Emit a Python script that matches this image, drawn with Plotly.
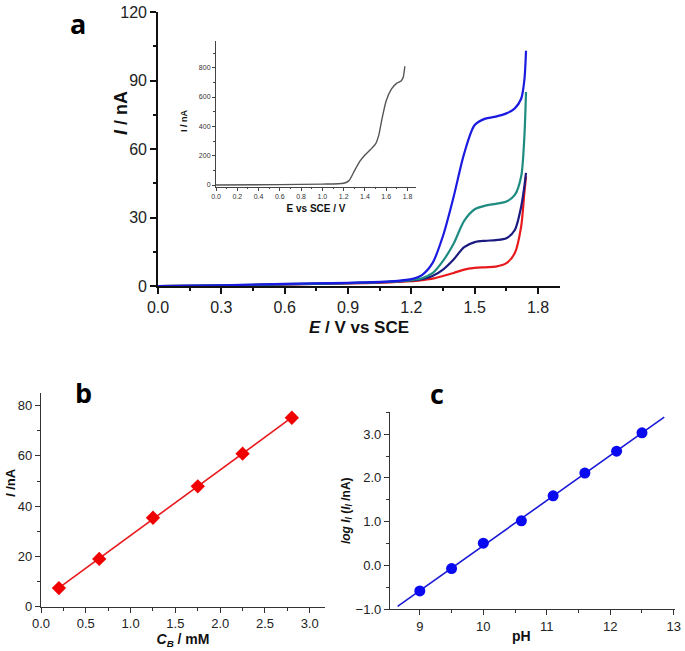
import numpy as np
import plotly.graph_objects as go

# ---------- Panel a data ----------
E_main = [0.0, 0.3, 0.6, 0.9, 1.1, 1.2, 1.25, 1.3, 1.35, 1.4, 1.45, 1.5, 1.55, 1.6, 1.65, 1.69, 1.72, 1.735, 1.743]
I_red = [0.0, 0.2, 0.7, 1.1, 1.6, 2.1, 2.6, 3.2, 4.4, 5.7, 7.2, 7.9, 8.2, 8.5, 10.0, 14.4, 26.0, 40.7, 48.0]
I_navy = [0.0, 0.2, 0.7, 1.2, 1.8, 2.4, 3.0, 4.4, 7.2, 11.6, 17.0, 19.2, 19.8, 20.1, 20.9, 24.5, 34.7, 43.5, 49.5]
I_teal = [0.0, 0.25, 0.8, 1.3, 1.9, 2.6, 3.4, 5.6, 11.0, 18.5, 28.5, 33.6, 35.2, 36.0, 37.0, 39.9, 48.0, 65.0, 85.0]
I_blue = [0.0, 0.3, 0.9, 1.4, 2.0, 3.0, 4.8, 10.0, 22.0, 39.0, 58.0, 70.5, 73.3, 74.2, 75.6, 77.8, 82.0, 90.0, 103.0]

# ---------- Inset data ----------
E_inset = [0.0, 0.6, 1.0, 1.2, 1.25, 1.3, 1.35, 1.4, 1.45, 1.5, 1.53, 1.56, 1.6, 1.65, 1.7, 1.74, 1.76, 1.775]
I_inset = [0, 3, 6, 12, 30, 95, 160, 205, 240, 280, 340, 450, 575, 655, 695, 710, 735, 810]

# ---------- Panel b data ----------
C_B = [0.2, 0.65, 1.25, 1.75, 2.25, 2.8]
I_b = [7.4, 19.0, 35.4, 47.9, 60.9, 75.2]

# ---------- Panel c data ----------
pH = [9.0, 9.5, 10.0, 10.6, 11.1, 11.6, 12.1, 12.5]
logI = [-0.58, -0.07, 0.51, 1.02, 1.59, 2.11, 2.61, 3.03]
pH_line_range = [8.65, 12.85]

W, H = 685, 651
def px(x): return x / W
def py(y): return 1 - y / H

TICKFONT = "Liberation Sans, Arial, sans-serif"

fig = go.Figure()

# Panel a curves
for ys, col in [(I_red, "#e8191c"), (I_navy, "#1b1a80"), (I_teal, "#1e8c80"), (I_blue, "#1a1ae0")]:
    fig.add_trace(go.Scatter(x=E_main, y=ys, mode="lines", line=dict(color=col, width=2.2, shape="spline", smoothing=0.8),
                             xaxis="x", yaxis="y", showlegend=False, hoverinfo="skip"))

# Inset
fig.add_trace(go.Scatter(x=E_inset, y=I_inset, mode="lines", line=dict(color="#555555", width=1.4, shape="spline", smoothing=0.6),
                         xaxis="x2", yaxis="y2", showlegend=False))

# Panel b
kb = np.polyfit(C_B, I_b, 1)
xb = np.array([min(C_B), max(C_B)])
fig.add_trace(go.Scatter(x=xb, y=np.polyval(kb, xb), mode="lines", line=dict(color="#e8191c", width=1.6),
                         xaxis="x3", yaxis="y3", showlegend=False))
fig.add_trace(go.Scatter(x=C_B, y=I_b, mode="markers", marker=dict(symbol="diamond", size=11, color="#f00000"),
                         xaxis="x3", yaxis="y3", showlegend=False))

# Panel c
kc = np.polyfit(pH, logI, 1)
xc = np.array(pH_line_range)
fig.add_trace(go.Scatter(x=xc, y=np.polyval(kc, xc), mode="lines", line=dict(color="#1a1ad8", width=1.6),
                         xaxis="x4", yaxis="y4", showlegend=False))
fig.add_trace(go.Scatter(x=pH, y=logI, mode="markers", marker=dict(symbol="circle", size=11, color="#0a0af0"),
                         xaxis="x4", yaxis="y4", showlegend=False))

def ax(domain, rng, dtick, mdtick, fsize, lw=1.5, ticklen=6, color="#111111", tickformat=None, anchor=None,
       title=None, tsize=14, standoff=4, tcolor="#222222"):
    d = dict(domain=domain, range=rng, dtick=dtick, tick0=0, showgrid=False, zeroline=False, showline=True,
             linecolor=color, linewidth=lw, ticks="outside", ticklen=ticklen, tickwidth=lw, tickcolor=color,
             tickfont=dict(family=TICKFONT, size=fsize, color=tcolor), automargin=False,
             minor=dict(ticks="outside", ticklen=ticklen * 0.55, tickwidth=lw, tickcolor=color, dtick=mdtick, tick0=0, showgrid=False),
             anchor=anchor, fixedrange=True)
    if tickformat:
        d["tickformat"] = tickformat
    if title:
        d["title"] = dict(text=title, font=dict(family=TICKFONT, size=tsize, color="#111111"), standoff=standoff)
    return d

fig.update_layout(
    width=W, height=H, margin=dict(l=0, r=0, t=0, b=0, autoexpand=False),
    paper_bgcolor="white", plot_bgcolor="rgba(0,0,0,0)",
    xaxis=ax([px(158), px(560)], [0, 1.904], 0.3, 0.15, 16, lw=1.6, tickformat=".1f", anchor="y",
             title="<b><i>E</i> / V vs SCE</b>", tsize=17, standoff=6),
    yaxis=ax([py(286), py(12)], [0, 120], 30, 15, 16, lw=1.6, anchor="x"),
    xaxis2=ax([px(216), px(416)], [0, 1.88], 0.2, 0.1, 7, lw=1.1, ticklen=3, color="#444444", tickformat=".1f", anchor="y2",
              title="<b>E vs SCE / V</b>", tsize=10, standoff=6, tcolor="#333333"),
    yaxis2=ax([py(186.5), py(41.3)], [-10, 980], 200, 100, 7, lw=1.1, ticklen=3, color="#444444", anchor="x2", tcolor="#333333"),
    xaxis3=ax([px(41), px(325)], [0, 3.17], 0.5, 0.25, 13, lw=1.3, ticklen=5, color="#333333", tickformat=".1f", anchor="y3",
              title="<b><i>C<sub>B</sub></i> / mM</b>", tsize=14, standoff=2),
    yaxis3=ax([py(606.7), py(393.1)], [0, 85], 20, 10, 13, lw=1.3, ticklen=5, color="#333333", anchor="x3"),
    xaxis4=ax([px(390), px(675)], [8.53, 13.02], 1, 0.5, 13, lw=1.3, ticklen=5, color="#333333", anchor="y4"),
    yaxis4=ax([py(609.3), py(412.2)], [-1.0, 3.5], 1, 0.5, 13, lw=1.3, ticklen=5, color="#333333", tickformat=".1f", anchor="x4",
              title="<b><i>log I<sub>l</sub></i> (<i>I<sub>l</sub></i> /nA)</b>", tsize=12, standoff=2),
)

# Axis titles placed as annotations for precise placement
titles = [
    ("<b><i>I</i> / nA</b>", 121, 113, 18, -90),
    ("<b>I / nA</b>", 184, 121, 9, -90),
    ("<b><i>I</i> /nA</b>", 10, 483, 13, -90),
    ("<b>pH</b>", 521, 636, 14, 0),
]
for t, x, y, s, ang in titles:
    fig.add_annotation(text=t, x=px(x), y=py(y), xref="paper", yref="paper", showarrow=False,
                       xanchor="center", yanchor="middle", textangle=ang,
                       font=dict(family=TICKFONT, size=s, color="#111111"))

for letter, x, y in [("a", 78, 24), ("b", 83, 392), ("c", 437, 393)]:
    fig.add_annotation(text=f"<b>{letter}</b>", x=px(x), y=py(y), xref="paper", yref="paper",
                       showarrow=False, xanchor="center", yanchor="middle",
                       font=dict(family="Open Sans, Noto Sans, sans-serif", size=27, color="black"))

fig.write_html("out.html", config={"displayModeBar": False},
               post_script="document.body.style.margin='0';document.body.style.overflow='hidden';")
